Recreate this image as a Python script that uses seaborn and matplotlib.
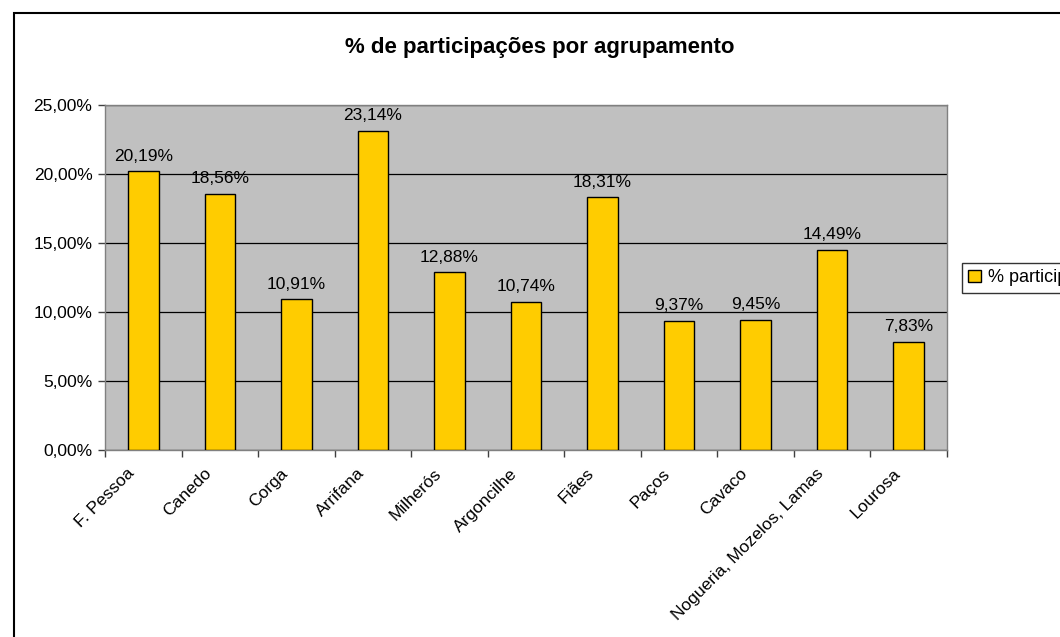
import matplotlib
matplotlib.use("Agg")
import matplotlib.pyplot as plt
import matplotlib.transforms as mtransforms
import seaborn as sns
import pandas as pd
from matplotlib.patches import Rectangle
from matplotlib.ticker import FuncFormatter, MultipleLocator

# --- DADOS ---
agrupamentos = ['F. Pessoa', 'Canedo', 'Corga', 'Arrifana', 'Milherós', 'Argoncilhe',
                'Fiães', 'Paços', 'Cavaco', 'Nogueria, Mozelos, Lamas', 'Lourosa']
participacoes = [20.19, 18.56, 10.91, 23.14, 12.88, 10.74, 18.31, 9.37, 9.45, 14.49, 7.83]
serie = '% participações'
titulo = '% de participações por agrupamento'

df = pd.DataFrame({'agrupamento': agrupamentos, 'pct': participacoes})

# --- CONFIGURAÇÃO ---
sns.set_theme(style="white")
plt.rcParams['font.family'] = ['Liberation Sans', 'DejaVu Sans']
plt.rcParams['text.color'] = 'black'
plt.rcParams['xtick.color'] = 'black'
plt.rcParams['ytick.color'] = 'black'

fig = plt.figure(figsize=(10.6, 6.37), dpi=100)
ax = fig.add_axes([105 / 1060, 1 - 450 / 637, (947 - 105) / 1060, (450 - 105) / 637])

sns.barplot(data=df, x='agrupamento', y='pct', color='#FFCC00', saturation=1,
            width=0.4, edgecolor='black', linewidth=1, ax=ax, zorder=3)

ax.set_facecolor('#C0C0C0')
ax.set_ylim(0, 25)
ax.set_xlim(-0.5, len(agrupamentos) - 0.5)
ax.yaxis.set_major_locator(MultipleLocator(5))
ax.yaxis.set_major_formatter(FuncFormatter(lambda v, p: f'{v:.2f}%'.replace('.', ',')))
ax.grid(axis='y', color='black', linewidth=0.9, zorder=1)
ax.grid(axis='x', visible=False)
for s in ax.spines.values():
    s.set_color('#808080')
    s.set_linewidth(1)

# ticks entre categorias no eixo x; rótulos desenhados à parte
ax.set_xticks([i - 0.5 for i in range(len(agrupamentos) + 1)])
ax.set_xticklabels([])
ax.tick_params(axis='x', length=5, color='#404040', width=1, bottom=True)
ax.tick_params(axis='y', length=5, color='#404040', width=1, left=True, labelsize=12.5, pad=4)
ax.set_xlabel('')
ax.set_ylabel('')

desloc = mtransforms.ScaledTranslation(-11 / 100, -21 / 100, fig.dpi_scale_trans)
for i, nome in enumerate(agrupamentos):
    ax.text(i, 0, nome, transform=ax.get_xaxis_transform() + desloc, rotation=45,
            ha='right', va='center', rotation_mode='anchor', fontsize=12.5, clip_on=False)

# rótulos de valor
for i, v in enumerate(participacoes):
    ax.text(i, v + 0.55, f'{v:.2f}%'.replace('.', ','), ha='center', va='bottom', fontsize=12.5)

fig.text(540 / 1060, 1 - 47 / 637, titulo, ha='center', va='center',
         fontsize=16, fontweight='bold')

# legenda (cortada na borda, como no original)
leg = fig.legend(handles=[Rectangle((0, 0), 1, 1, facecolor='#FFCC00', edgecolor='black')],
                 labels=[serie], loc='upper left', bbox_to_anchor=(962 / 1060, 1 - 263 / 637),
                 frameon=True, fancybox=False, edgecolor='black', fontsize=13,
                 handlelength=0.7, handleheight=0.7, borderpad=0.35, handletextpad=0.4,
                 borderaxespad=0)
leg.get_frame().set_linewidth(1)

# moldura do gráfico
fig.patches.append(Rectangle((14 / 1060, -0.1), 1.2, 1 - 13 / 637 + 0.1, transform=fig.transFigure,
                             fill=False, edgecolor='black', linewidth=1.5, figure=fig))

fig.savefig('out.png', dpi=100)
